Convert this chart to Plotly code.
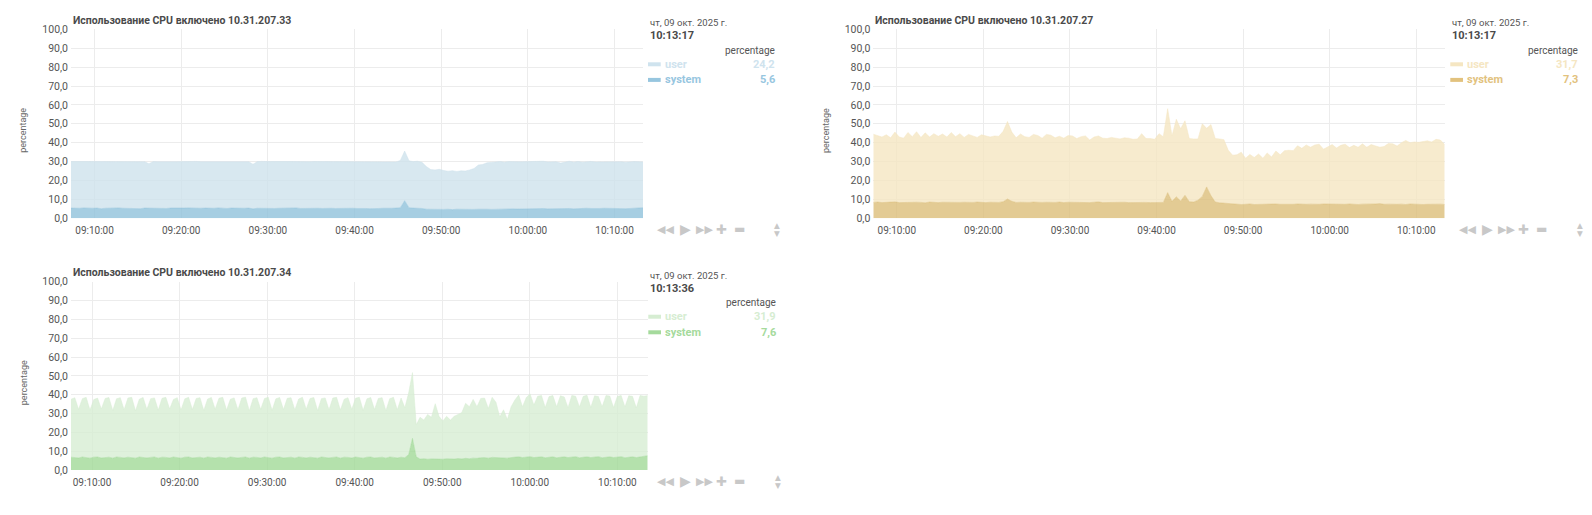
import pandas as pd
import plotly.graph_objects as go

W, H = 1592, 515

# sampling of the series (first timestamp, step in seconds)
START_A = "2025-10-09 09:07:17"   # hosts .33 and .27
STEP_A = 30
START_B = "2025-10-09 09:07:36"   # host .34
STEP_B = 26

hosts = ["10.31.207.33", "10.31.207.27", "10.31.207.34"]
date_label = "чт, 09 окт. 2025 г."
last_times = ["10:13:17", "10:13:17", "10:13:36"]
units = "percentage"
dim_names = ["user", "system"]
y_ticks = [0, 10, 20, 30, 40, 50, 60, 70, 80, 90, 100]
x_tick0 = "2025-10-09 09:10:00"

user_33 = [
    24.6, 24.9, 24.7, 24.5, 24.8, 24.7, 24.5, 24.9, 24.6, 24.5,
    24.8, 24.4, 24.7, 24.9, 24.5, 24.7, 24.8, 24.5, 23.6, 24.8,
    24.4, 24.7, 24.9, 24.5, 24.6, 24.8, 24.5, 24.4, 24.7, 24.9,
    24.6, 24.5, 24.8, 24.7, 24.5, 24.6, 24.9, 24.4, 24.7, 24.9,
    24.6, 24.5, 23.6, 24.7, 24.9, 24.5, 24.7, 24.8, 24.6, 24.5,
    24.8, 24.7, 24.4, 24.9, 24.6, 24.5, 24.8, 24.7, 24.9, 24.5,
    24.6, 24.8, 24.7, 24.5, 24.4, 24.6, 24.9, 24.7, 24.8, 24.9,
    24.6, 24.8, 24.7, 24.6, 24.5, 24.4, 25.0, 26.3, 24.8, 24.6,
    24.7, 24.4, 22.6, 21.1, 20.7, 21.1, 20.6, 20.1, 20.6, 20.0,
    20.4, 20.1, 20.8, 21.6, 23.4, 23.6, 24.6, 25.1, 25.0, 25.2,
    24.9, 25.1, 24.8, 25.0, 24.9, 24.8, 25.0, 24.7, 24.9, 25.0,
    24.8, 24.9, 24.7, 23.9, 24.8, 25.0, 24.7, 24.9, 24.6, 24.8,
    24.9, 24.7, 24.6, 24.8, 24.9, 24.7, 24.8, 24.7, 24.6, 24.8,
    24.7, 24.5, 24.2,
]
system_33 = [
    5.4, 5.2, 5.3, 5.5, 5.2, 5.3, 5.4, 5.1, 5.3, 5.4,
    5.2, 5.5, 5.3, 5.2, 5.4, 5.3, 5.1, 5.4, 5.3, 5.2,
    5.5, 5.3, 5.2, 5.4, 5.3, 5.2, 5.4, 5.5, 5.3, 5.2,
    5.3, 5.4, 5.2, 5.3, 5.5, 5.3, 5.2, 5.4, 5.3, 5.1,
    5.3, 5.4, 5.0, 5.3, 5.2, 5.4, 5.3, 5.2, 5.3, 5.4,
    5.2, 5.3, 5.5, 5.2, 5.3, 5.4, 5.2, 5.3, 5.2, 5.4,
    5.3, 5.2, 5.3, 5.4, 5.5, 5.3, 5.2, 5.3, 5.2, 5.1,
    5.3, 5.2, 5.3, 5.2, 5.3, 5.4, 5.6, 9.3, 5.6, 5.4,
    5.5, 5.2, 4.8, 4.7, 4.9, 4.8, 4.7, 4.8, 4.6, 4.8,
    4.7, 4.9, 4.8, 4.7, 4.8, 4.9, 4.8, 4.7, 4.8, 4.9,
    4.8, 4.9, 5.0, 4.9, 5.0, 5.1, 5.0, 5.2, 5.1, 5.2,
    5.0, 5.1, 5.2, 5.3, 5.1, 5.2, 5.0, 5.2, 5.1, 5.3,
    5.2, 5.1, 5.2, 5.3, 5.2, 5.1, 5.3, 5.2, 5.1, 5.2,
    5.3, 5.4, 5.6,
]

user_27 = [
    36.1, 35.2, 34.7, 35.7, 34.2, 36.9, 34.7, 34.0, 36.8, 34.9,
    37.3, 34.4, 37.0, 34.4, 36.4, 35.1, 36.1, 34.6, 36.8, 34.9,
    36.4, 34.3, 36.1, 35.2, 34.2, 35.8, 35.3, 34.5, 35.2, 35.0,
    37.2, 41.0, 36.6, 34.2, 36.1, 34.9, 34.4, 35.8, 35.5, 34.0,
    35.9, 35.7, 34.2, 34.8, 34.1, 35.3, 35.2, 33.9, 34.6, 35.2,
    33.1, 34.5, 34.9, 34.1, 33.8, 34.3, 34.1, 33.6, 34.1, 34.1,
    33.4, 33.7, 36.2, 33.8, 33.9, 33.4, 36.2, 34.8, 44.4, 34.6,
    41.0, 38.2, 39.4, 33.4, 33.4, 32.4, 38.4, 31.0, 37.6, 33.6,
    33.8, 33.6, 28.4, 26.0, 26.1, 27.7, 24.4, 26.2, 24.9, 26.6,
    24.3, 27.3, 25.0, 28.0, 26.2, 28.5, 28.5, 28.4, 30.8, 29.7,
    31.4, 30.1, 31.5, 31.8, 29.0, 30.5, 31.6, 29.9, 31.1, 31.8,
    29.8, 31.2, 30.3, 31.9, 30.2, 31.7, 30.6, 29.8, 30.6, 32.1,
    32.1, 30.8, 32.5, 33.9, 32.4, 33.0, 32.7, 33.3, 33.6, 32.9,
    34.4, 33.9, 31.7,
]
system_27 = [
    8.4, 8.6, 8.3, 8.5, 8.4, 8.7, 8.3, 8.4, 8.6, 8.3,
    8.5, 8.4, 8.2, 8.6, 8.4, 8.3, 8.5, 8.4, 8.6, 8.3,
    8.4, 8.5, 8.3, 8.4, 8.6, 8.4, 8.3, 8.5, 8.4, 8.4,
    8.8, 10.2, 9.0, 8.4, 8.5, 8.3, 8.4, 8.6, 8.3, 8.4,
    8.5, 8.3, 8.4, 8.6, 8.3, 8.5, 8.4, 8.3, 8.6, 8.4,
    8.3, 8.5, 8.7, 8.3, 8.4, 8.5, 8.3, 8.4, 8.5, 8.3,
    8.4, 8.3, 8.6, 8.4, 8.3, 8.4, 8.6, 8.4, 13.6, 9.0,
    11.4, 9.2, 12.2, 8.8, 8.6, 9.6, 11.6, 16.6, 12.0, 8.6,
    8.2, 8.0, 7.6, 7.4, 7.5, 7.3, 7.4, 7.6, 7.3, 7.4,
    7.5, 7.3, 7.4, 7.6, 7.4, 7.3, 7.5, 7.4, 7.6, 7.3,
    7.4, 7.5, 7.3, 7.4, 7.6, 7.5, 7.4, 7.3, 7.5, 7.4,
    7.6, 7.4, 7.3, 7.5, 7.4, 7.3, 7.6, 7.8, 7.4, 7.5,
    7.3, 7.4, 7.5, 7.3, 7.6, 7.4, 7.5, 7.3, 7.4, 7.5,
    7.4, 7.5, 7.3,
]

user_34 = [
    30.8, 31.8, 25.8, 31.0, 31.9, 25.5, 30.6, 31.3, 26.0, 31.3,
    31.7, 25.3, 30.9, 31.7, 25.6, 31.4, 32.0, 25.1, 30.7, 31.7,
    25.8, 31.2, 31.4, 25.5, 31.3, 31.9, 26.0, 30.6, 31.8, 25.6,
    31.0, 31.7, 25.7, 31.3, 31.6, 25.3, 30.8, 31.8, 25.9, 31.3,
    32.0, 25.5, 30.7, 31.5, 25.6, 31.5, 31.8, 25.2, 31.1, 31.7,
    25.8, 31.1, 32.0, 25.4, 31.0, 31.6, 25.7, 31.4, 31.6, 25.6,
    30.8, 31.9, 25.9, 31.2, 31.9, 25.3, 31.0, 31.5, 25.6, 31.5,
    31.7, 25.5, 30.8, 31.7, 25.8, 31.2, 32.0, 25.4, 31.0, 31.6,
    25.7, 31.3, 31.6, 25.2, 31.0, 31.9, 25.6, 31.4, 26.5, 32.8,
    34.9, 17.0, 22.2, 20.5, 23.8, 22.1, 29.2, 22.7, 20.3, 22.5,
    20.6, 22.7, 23.4, 24.6, 29.2, 27.6, 31.2, 27.4, 31.5, 31.6,
    26.4, 31.9, 29.4, 21.9, 25.5, 20.5, 27.0, 30.4, 32.8, 27.0,
    31.6, 33.3, 27.9, 32.3, 32.6, 26.7, 32.2, 32.5, 27.1, 32.5,
    31.8, 26.5, 32.8, 32.1, 27.0, 32.2, 32.7, 26.7, 32.6, 31.9,
    27.1, 32.6, 32.3, 26.6, 32.2, 32.5, 27.0, 32.5, 32.1, 26.4,
    32.7, 32.0, 31.9,
]
system_34 = [
    6.8, 6.6, 6.4, 6.9, 6.7, 6.3, 6.8, 6.9, 6.4, 6.7,
    6.8, 6.3, 6.9, 6.7, 6.4, 6.8, 6.6, 6.3, 6.9, 6.8,
    6.4, 6.7, 6.9, 6.3, 6.8, 6.7, 6.4, 6.9, 6.6, 6.3,
    6.8, 6.9, 6.4, 6.7, 6.8, 6.3, 6.9, 6.7, 6.4, 6.8,
    6.6, 6.3, 6.9, 6.8, 6.4, 6.7, 6.9, 6.3, 6.8, 6.7,
    6.4, 6.9, 6.6, 6.3, 6.8, 6.9, 6.4, 6.7, 6.8, 6.3,
    6.9, 6.7, 6.4, 6.8, 6.6, 6.3, 6.9, 6.8, 6.4, 6.7,
    6.9, 6.3, 6.8, 6.7, 6.4, 6.9, 6.6, 6.3, 6.8, 6.9,
    6.4, 6.7, 6.8, 6.3, 6.9, 6.7, 6.4, 6.8, 6.5, 8.2,
    16.8, 7.0, 5.8, 6.0, 5.7, 5.9, 6.0, 5.8, 5.7, 6.0,
    5.9, 5.8, 6.1, 5.9, 6.2, 6.0, 6.3, 6.2, 6.5, 6.6,
    6.3, 6.7, 6.6, 6.4, 6.5, 6.3, 6.6, 6.8, 7.0, 6.6,
    6.9, 7.1, 6.6, 6.9, 7.0, 6.5, 6.8, 7.0, 6.5, 6.9,
    7.0, 6.6, 6.8, 7.1, 6.5, 6.9, 7.0, 6.6, 6.8, 7.1,
    6.5, 6.9, 7.0, 6.6, 6.8, 7.1, 6.5, 6.9, 7.0, 6.6,
    6.9, 7.2, 7.6,
]

FONT = "Roboto, 'Liberation Sans', sans-serif"
ICON_FONT = "'DejaVu Sans'"
GRID = "#ececec"
TICK = "#555555"
ICON = "#c8c8c8"

# plot box in page pixels: left, right, top (100 line), bottom (0 line); legend left edge
panels = [
    dict(host=hosts[0], time=last_times[0], start=START_A, step=STEP_A,
         user=user_33, system=system_33, box=(71, 643, 29.3, 218.3), leg=648,
         fill=("rgba(206,226,236,0.8)", "rgba(144,194,219,0.8)"),
         text=("#cfe3ee", "#97c6df")),
    dict(host=hosts[1], time=last_times[1], start=START_A, step=STEP_A,
         user=user_27, system=system_27, box=(873.3, 1444.7, 29.3, 218.3), leg=1450.3,
         fill=("rgba(245,230,194,0.8)", "rgba(220,190,121,0.8)"),
         text=("#f5e6c2", "#e2c27e")),
    dict(host=hosts[2], time=last_times[2], start=START_B, step=STEP_B,
         user=user_34, system=system_34, box=(71, 647.7, 281.7, 470), leg=648.3,
         fill=("rgba(215,237,211,0.8)", "rgba(161,217,151,0.8)"),
         text=("#d6edd2", "#a5da9c")),
]


def px(x):
    return x / W


def py(y):
    return 1 - y / H


fig = go.Figure()
annotations = []
shapes = []
axes = {}


def label(x, y, text, size, color, anchor="left", family=FONT, angle=0):
    annotations.append(dict(
        x=px(x), y=py(y), xref="paper", yref="paper", text=text, showarrow=False,
        xanchor=anchor, yanchor="middle", textangle=angle,
        font=dict(family=family, size=size, color=color)))


for k, p in enumerate(panels):
    sfx = "" if k == 0 else str(k + 1)
    t = pd.date_range(p["start"], periods=len(p["user"]), freq=f"{p['step']}s")
    user_fill, sys_fill = p["fill"]

    fig.add_trace(go.Scatter(
        x=t, y=p["system"], name="system", xaxis="x" + sfx, yaxis="y" + sfx,
        stackgroup=f"host{k}", mode="lines", line=dict(width=0.6, color=sys_fill),
        fillcolor=sys_fill, hoverinfo="skip"))
    fig.add_trace(go.Scatter(
        x=t, y=p["user"], name="user", xaxis="x" + sfx, yaxis="y" + sfx,
        stackgroup=f"host{k}", mode="lines", line=dict(width=0.6, color=user_fill),
        fillcolor=user_fill, hoverinfo="skip"))

    left, right, top, bottom = p["box"]
    axes["xaxis" + sfx] = dict(
        domain=[px(left), px(right)], anchor="y" + sfx, type="date",
        range=[str(t[0]), str(t[-1])], tick0=x_tick0, dtick=600000,
        tickformat="%H:%M:%S", showgrid=True, gridcolor=GRID, gridwidth=1,
        zeroline=False, showline=False, ticks="", automargin=False,
        ticklabelstandoff=5,
        tickfont=dict(family=FONT, size=10, color=TICK), fixedrange=True)
    axes["yaxis" + sfx] = dict(
        domain=[py(bottom), py(top)], anchor="x" + sfx, range=[0, 100],
        tickvals=y_ticks, tickformat=".1f", showgrid=True, gridcolor=GRID,
        zeroline=False, showline=False, ticks="", ticklabelstandoff=2,
        automargin=False,
        tickfont=dict(family=FONT, size=10.5, color=TICK), fixedrange=True)

    # chart title and vertical units label
    label(left, top - 8.8, f"<b>Использование CPU включено {p['host']}</b>", 10.5, "#4a4a4a")
    label(left - 47.5, top + 101, units, 9, "#666666", anchor="center", angle=-90)

    # legend block on the right
    lx = p["leg"]
    rx = lx + 129.4
    label(lx, top - 6.6, date_label, 9.5, "#555555")
    label(lx, top + 6.6, f"<b>{p['time']}</b>", 11, "#4a4a4a")
    label(rx, top + 21.2, units, 10, "#555555", anchor="right")
    rows = [(dim_names[0], p["user"][-1], p["text"][0], top + 35),
            (dim_names[1], p["system"][-1], p["text"][1], top + 50.6)]
    for name, val, col, ry in rows:
        shapes.append(dict(type="rect", xref="paper", yref="paper",
                           x0=px(lx), x1=px(lx + 12.7), y0=py(ry + 2), y1=py(ry - 2),
                           fillcolor=col, line=dict(width=0)))
        label(lx + 14.5, ry, f"<b>{name}</b>", 11, col)
        label(rx, ry, "<b>" + f"{val:.1f}".replace(".", ",") + "</b>", 11, col, anchor="right")

    # navigation buttons under the legend
    iy = bottom + 11
    label(lx + 17.5, iy, "◀◀", 11, ICON, anchor="center", family=ICON_FONT)
    label(lx + 37.5, iy, "▶", 14, ICON, anchor="center", family=ICON_FONT)
    label(lx + 56, iy, "▶▶", 11, ICON, anchor="center", family=ICON_FONT)
    label(lx + 73, iy, "✚", 13, ICON, anchor="center", family=ICON_FONT)
    label(lx + 91, iy, "▬", 12, ICON, anchor="center", family=ICON_FONT)
    label(rx, iy - 3.8, "▲", 7.5, ICON, anchor="center", family=ICON_FONT)
    label(rx, iy + 4.2, "▼", 7.5, ICON, anchor="center", family=ICON_FONT)

fig.update_layout(
    width=W, height=H, margin=dict(l=0, r=0, t=0, b=0),
    paper_bgcolor="white", plot_bgcolor="white",
    showlegend=False, hovermode=False, separators=", ",
    font=dict(family=FONT, color=TICK),
    annotations=annotations, shapes=shapes, **axes)

fig.write_html("out.html", config=dict(displayModeBar=False),
               post_script="document.body.style.margin='0';")
